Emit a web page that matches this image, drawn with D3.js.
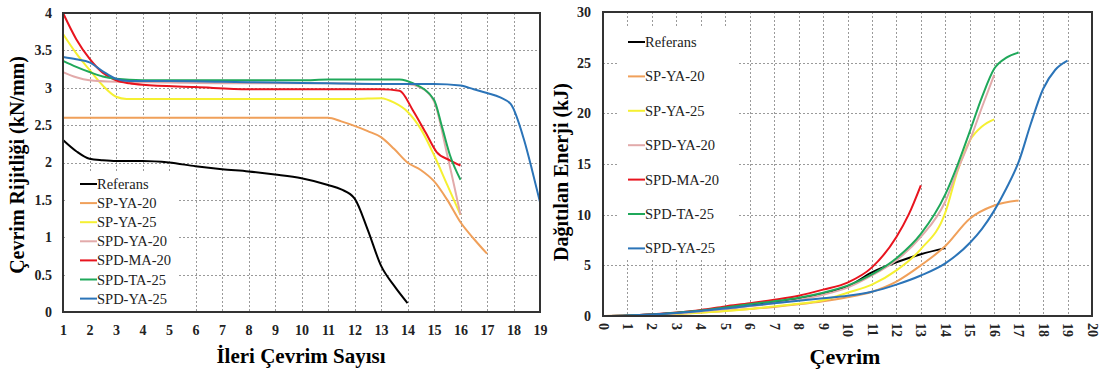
<!DOCTYPE html>
<html>
<head>
<meta charset="utf-8">
<script src="https://cdn.jsdelivr.net/npm/d3@7"></script>
<style>
  body { margin: 0; background: #fff; }
  svg { display: block; font-family: "Liberation Serif", "DejaVu Serif", serif; }
</style>
</head>
<body>
<svg id="canvas" width="1099" height="374"></svg>
<script>
// series names and colours (same order in both charts)
const seriesNames = ["Referans", "SP-YA-20", "SP-YA-25", "SPD-YA-20", "SPD-MA-20", "SPD-TA-25", "SPD-YA-25"];
const seriesColors = ["#000000", "#f0a05a", "#f5f032", "#e2aaaa", "#e8141e", "#1fa85a", "#2b74b8"];

// left chart: cycle stiffness (kN/mm) vs forward cycle number
const rigReferans = [[1,2.3],[1.5,2.15],[2,2.05],[2.5,2.03],[3,2.02],[4,2.02],[5,2.0],[6,1.95],[7,1.91],[8,1.88],[9,1.84],[10,1.79],[11,1.7],[11.5,1.64],[12,1.52],[12.5,1.1],[13,0.62],[13.5,0.35],[14,0.12]];
const rigSPYA20 = [[1,2.6],[3,2.6],[5,2.6],[7,2.6],[9,2.6],[11,2.6],[11.5,2.55],[12,2.49],[12.5,2.42],[13,2.34],[13.5,2.18],[14,2.0],[14.5,1.9],[15,1.75],[15.5,1.5],[16,1.2],[16.5,0.98],[17,0.78]];
const rigSPYA25 = [[1,3.72],[1.5,3.46],[2,3.24],[2.5,3.03],[3,2.88],[3.4,2.85],[5,2.85],[7,2.85],[9,2.85],[11,2.85],[12,2.85],[13,2.86],[13.5,2.8],[14,2.68],[14.5,2.45],[15,2.1],[15.5,1.7],[16,1.3]];
const rigSPDYA20 = [[1,3.21],[1.5,3.14],[2,3.1],[3,3.08],[5,3.07],[7,3.06],[9,3.06],[11,3.06],[13,3.05],[14,3.05],[14.5,3.0],[15,2.82],[15.5,2.1],[16,1.3]];
const rigSPDMA20 = [[1,4.0],[1.5,3.65],[2,3.39],[2.5,3.2],[3,3.1],[3.5,3.06],[4,3.04],[6,3.01],[8,2.98],[10,2.98],[12,2.98],[13,2.98],[13.7,2.96],[14.2,2.7],[14.7,2.39],[15.1,2.14],[15.6,2.03],[16,1.96]];
const rigSPDTA25 = [[1,3.36],[1.5,3.28],[2,3.21],[2.5,3.15],[3,3.12],[4,3.1],[6,3.1],[8,3.1],[10,3.1],[11,3.11],[12,3.11],[13,3.11],[13.7,3.11],[14.2,3.06],[15,2.84],[15.3,2.48],[15.6,2.1],[16,1.77]];
const rigSPDYA25 = [[1,3.41],[1.5,3.38],[2,3.34],[2.5,3.22],[3,3.12],[3.5,3.09],[5,3.09],[7,3.08],[9,3.07],[11,3.06],[13,3.05],[15,3.05],[16,3.03],[16.5,2.98],[17,2.93],[17.5,2.87],[17.9,2.78],[18.4,2.3],[18.7,1.9],[19,1.47]];
const rigData = [rigReferans, rigSPYA20, rigSPYA25, rigSPDYA20, rigSPDMA20, rigSPDTA25, rigSPDYA25];
const rigXTicks = d3.range(1, 20);
const rigYTicks = [0, 0.5, 1, 1.5, 2, 2.5, 3, 3.5, 4];

// right chart: dissipated energy (kJ) vs cycle
const enReferans = [[0,0],[1,0.05],[2,0.15],[3,0.3],[4,0.5],[5,0.75],[6,1.05],[7,1.35],[8,1.7],[9,2.2],[10,2.9],[11,4.3],[12,5.3],[13,6.1],[14,6.7]];
const enSPYA20 = [[0,0],[1,0.03],[2,0.1],[3,0.2],[4,0.35],[5,0.5],[6,0.7],[7,0.9],[8,1.15],[9,1.45],[10,1.85],[11,2.4],[12,3.4],[13,5.0],[14,6.9],[15,9.6],[16,10.9],[17,11.4]];
const enSPYA25 = [[0,0],[1,0.03],[2,0.1],[3,0.2],[4,0.33],[5,0.5],[6,0.7],[7,0.95],[8,1.2],[9,1.55],[10,2.3],[11,3.1],[12,4.5],[13,6.6],[14,10.2],[14.5,14.3],[15,17.3],[15.5,18.7],[16,19.4]];
const enSPDYA20 = [[0,0],[1,0.04],[2,0.12],[3,0.25],[4,0.45],[5,0.7],[6,0.95],[7,1.25],[8,1.6],[9,2.1],[10,2.8],[11,4.0],[12,5.5],[13,7.8],[14,11.3],[14.5,14.4],[15,17.3],[15.5,20.6],[16,23.8]];
const enSPDMA20 = [[0,0],[1,0.05],[2,0.17],[3,0.35],[4,0.6],[5,0.95],[6,1.25],[7,1.6],[8,2.0],[9,2.6],[10,3.3],[11,4.8],[12,7.8],[12.5,10.0],[13,12.9]];
const enSPDTA25 = [[0,0],[1,0.05],[2,0.15],[3,0.33],[4,0.55],[5,0.85],[6,1.15],[7,1.45],[8,1.8],[9,2.3],[10,3.0],[11,4.1],[12,5.7],[13,8.1],[14,12.0],[14.5,14.9],[15,18.2],[15.5,21.6],[16,24.4],[16.5,25.5],[17,26.0]];
const enSPDYA25 = [[0,0],[1,0.05],[2,0.15],[3,0.3],[4,0.5],[5,0.75],[6,1.0],[7,1.25],[8,1.5],[9,1.75],[10,2.0],[11,2.4],[12,3.1],[13,4.0],[14,5.2],[15,7.2],[15.5,8.6],[16,10.4],[16.5,12.6],[17,15.2],[17.5,19.0],[18,22.4],[18.5,24.3],[19,25.2]];
const enData = [enReferans, enSPYA20, enSPYA25, enSPDYA20, enSPDMA20, enSPDTA25, enSPDYA25];
const enXTicks = d3.range(0, 21);
const enYTicks = [0, 5, 10, 15, 20, 25, 30];

const svg = d3.select("#canvas");

function dibujarPanel(p) {
    const x = d3.scaleLinear().domain(p.xDomain).range([p.left, p.right]);
    const y = d3.scaleLinear().domain(p.yDomain).range([p.bottom, p.top]);
    const g = svg.append("g");

    // dotted grid
    const grid = g.append("g").attr("shape-rendering", "crispEdges");
    grid.selectAll("line.v").data(p.xTicks).join("line").attr("class", "v")
        .attr("x1", d => Math.round(x(d)) + 0.5).attr("x2", d => Math.round(x(d)) + 0.5)
        .attr("y1", p.top).attr("y2", p.bottom)
        .attr("stroke", "#9a9a9a").attr("stroke-width", 1).attr("stroke-dasharray", "2,2");
    grid.selectAll("line.h").data(p.yTicks).join("line").attr("class", "h")
        .attr("x1", p.left).attr("x2", p.right)
        .attr("y1", d => Math.round(y(d)) + 0.5).attr("y2", d => Math.round(y(d)) + 0.5)
        .attr("stroke", "#9a9a9a").attr("stroke-width", 1).attr("stroke-dasharray", "2,2");

    // legend box covers the grid
    g.append("rect")
        .attr("x", p.legend.x0).attr("y", p.legend.y0)
        .attr("width", p.legend.w).attr("height", p.legend.h)
        .attr("fill", "#fff");

    // lines
    const line = d3.line().x(d => x(d[0])).y(d => y(d[1])).curve(d3.curveMonotoneX);
    p.data.forEach((serie, i) => {
        g.append("path")
            .attr("d", line(serie))
            .attr("fill", "none")
            .attr("stroke", seriesColors[i])
            .attr("stroke-width", 2);
    });

    // frame
    g.append("rect")
        .attr("x", p.left).attr("y", p.top)
        .attr("width", p.right - p.left).attr("height", p.bottom - p.top)
        .attr("fill", "none").attr("stroke", "#333").attr("stroke-width", 2);

    // axes (labels only)
    const ax = d3.axisBottom(x).tickValues(p.xTicks).tickSize(0).tickPadding(p.rotateX ? 8 : 13).tickFormat(d3.format("d"));
    const axG = g.append("g").attr("transform", `translate(0,${p.bottom})`).call(ax);
    axG.select(".domain").remove();
    axG.selectAll("text").attr("font-size", 14).attr("font-weight", "bold")
        .attr("font-family", "Liberation Serif").attr("fill", "#222");
    if (p.rotateX) {
        axG.selectAll("text")
            .attr("transform", "rotate(90)")
            .attr("x", 7).attr("y", 0).attr("dy", "0.35em")
            .attr("text-anchor", "start");
    }
    const ay = d3.axisLeft(y).tickValues(p.yTicks).tickSize(0).tickPadding(p.yPad).tickFormat(d => String(d));
    const ayG = g.append("g").attr("transform", `translate(${p.left},0)`).call(ay);
    ayG.select(".domain").remove();
    ayG.selectAll("text").attr("font-size", 14).attr("font-weight", "bold")
        .attr("font-family", "Liberation Serif").attr("fill", "#222");

    // titles
    g.append("text")
        .attr("x", p.xTitle[0]).attr("y", p.xTitle[1])
        .attr("text-anchor", "middle").attr("font-size", p.xTitleSize).attr("font-weight", "bold")
        .text(p.xLabel);
    g.append("text")
        .attr("transform", `translate(${p.yTitle[0]},${p.yTitle[1]}) rotate(-90)`)
        .attr("text-anchor", "middle").attr("font-size", p.yTitleSize).attr("font-weight", "bold")
        .text(p.yLabel);

    // legend
    seriesNames.forEach((nombre, i) => {
        const ly = p.legend.firstY + i * p.legend.step;
        g.append("line")
            .attr("x1", p.legend.lineX).attr("x2", p.legend.lineX + 17)
            .attr("y1", ly).attr("y2", ly)
            .attr("stroke", seriesColors[i]).attr("stroke-width", 2);
        g.append("text")
            .attr("x", p.legend.lineX + 17).attr("y", ly)
            .attr("dy", "0.35em").attr("font-size", 14.5).attr("fill", "#222")
            .text(nombre);
    });
}

dibujarPanel({
    data: rigData, xDomain: [1, 19], yDomain: [0, 4],
    left: 63, right: 540, top: 13, bottom: 312,
    xTicks: rigXTicks, yTicks: rigYTicks, rotateX: false, yPad: 11,
    xLabel: "İleri Çevrim Sayısı", xTitle: [301, 363], xTitleSize: 21,
    yLabel: "Çevrim Rijitliği (kN/mm)", yTitle: [24, 165], yTitleSize: 20,
    legend: { x0: 65, y0: 173, w: 113, h: 138, lineX: 80, firstY: 184, step: 19.1 }
});

dibujarPanel({
    data: enData, xDomain: [0, 20], yDomain: [0, 30],
    left: 603, right: 1092, top: 12, bottom: 316,
    xTicks: enXTicks, yTicks: enYTicks, rotateX: true, yPad: 12,
    xLabel: "Çevrim", xTitle: [845, 364], xTitleSize: 22,
    yLabel: "Dağıtılan Enerji (kJ)", yTitle: [568, 172], yTitleSize: 20,
    legend: { x0: 618, y0: 26, w: 119, h: 232, lineX: 628, firstY: 42, step: 34.4 }
});
</script>
</body>
</html>
